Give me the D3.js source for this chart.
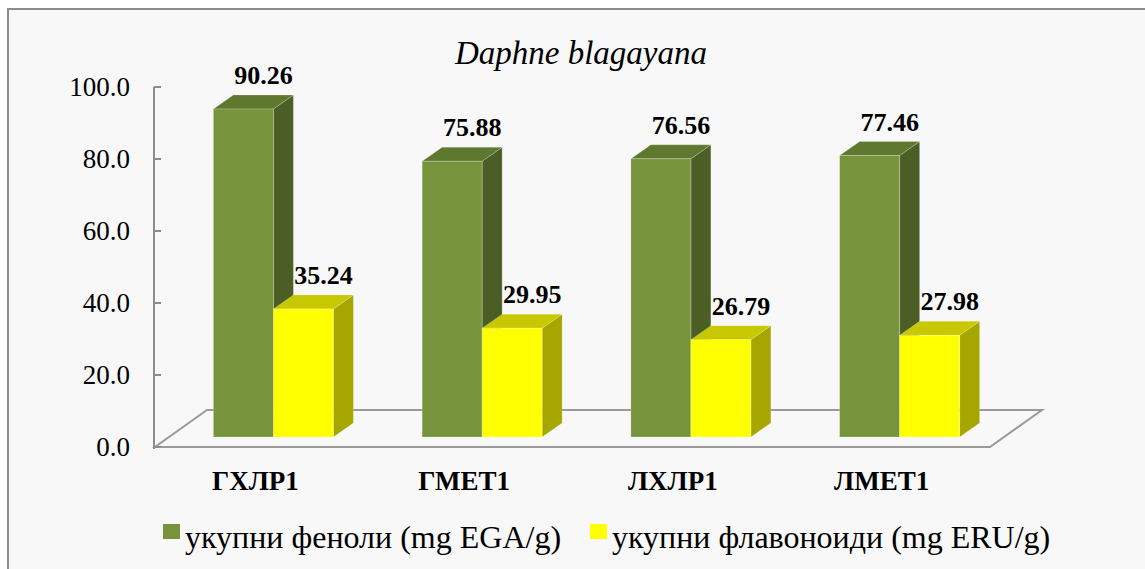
<!DOCTYPE html>
<html>
<head>
<meta charset="utf-8">
<script src="https://cdn.jsdelivr.net/npm/d3@7"></script>
<style>
  html, body { margin: 0; padding: 0; background: #ffffff; }
  svg { display: block; }
</style>
</head>
<body>
<svg id="chart" width="1145" height="569"></svg>
<script>
// Total phenols and flavonoids in Daphne blagayana extracts
const title = "Daphne blagayana";
const categories = ["ГХЛР1", "ГМЕТ1", "ЛХЛР1", "ЛМЕТ1"];
const seriesNames = ["укупни феноли (mg EGA/g)", "укупни флавоноиди (mg ERU/g)"];
const phenols = [90.26, 75.88, 76.56, 77.46];
const flavonoids = [35.24, 29.95, 26.79, 27.98];
const yTicks = [0, 20, 40, 60, 80, 100];

const FONT = "\"Liberation Serif\"";
const svg = d3.select("#chart");
const W = 1145, H = 569;

// chart area frame
svg.append("rect").attr("x", 8).attr("y", 9).attr("width", W).attr("height", H)
  .attr("fill", "#f8f8f8").attr("stroke", "#8c8c8c").attr("stroke-width", 2);

// plot geometry
const floorLeft = 155, floorRight = 990, floorFront = 447;
const depth = [52, -37];            // floor depth vector
const barOffset = [14, -10];        // bar front face offset into the floor
const barDepth = [20, -14];         // bar depth vector
const barW = 60;

const x = d3.scaleBand().domain(categories).range([floorLeft, floorRight]);
const yAxis = d3.scaleLinear().domain([0, 100]).range([floorFront, 87]);
const yBar = d3.scaleLinear().domain([0, 100]).range([floorFront + barOffset[1], floorFront + barOffset[1] - 363.4]);

// floor
const floorPts = [
  [floorLeft, floorFront], [floorRight, floorFront],
  [floorRight + depth[0], floorFront + depth[1]], [floorLeft + depth[0], floorFront + depth[1]]
];
svg.append("polygon").attr("points", floorPts.map(p => p.join(",")).join(" "))
  .attr("fill", "#f8f8f8").attr("stroke", "#9a9a9a").attr("stroke-width", 2);

// value axis
const axisG = svg.append("g");
axisG.append("line").attr("x1", floorLeft - 1).attr("x2", floorLeft - 1)
  .attr("y1", yAxis(100)).attr("y2", floorFront + 2)
  .attr("stroke", "#8c8c8c").attr("stroke-width", 2);
axisG.selectAll("line.tick").data(yTicks).join("line").attr("class", "tick")
  .attr("x1", floorLeft - 1).attr("x2", floorLeft + 6)
  .attr("y1", d => yAxis(d)).attr("y2", d => yAxis(d))
  .attr("stroke", "#8c8c8c").attr("stroke-width", 2);
axisG.selectAll("text").data(yTicks).join("text")
  .attr("x", 130).attr("y", d => yAxis(d)).attr("dy", "0.33em")
  .attr("text-anchor", "end").attr("font-family", FONT).attr("font-size", 27)
  .text(d => d.toFixed(1));

// bars
const series = [
  { name: seriesNames[0], values: phenols, front: "#77933c", top: "#5f782f", side: "#4b5e26", dx: -barW },
  { name: seriesNames[1], values: flavonoids, front: "#ffff00", top: "#c8c800", side: "#a6a600", dx: 0 }
];

const barsG = svg.append("g");
categories.forEach((c, i) => {
  series.forEach(s => {
    const v = s.values[i];
    const x0 = x(c) + x.bandwidth() / 2 + barOffset[0] + s.dx;
    const x1 = x0 + barW;
    const yb = yBar(0), yt = yBar(v);
    const [ddx, ddy] = barDepth;
    const g = barsG.append("g");
    // side face
    g.append("polygon").attr("points", [[x1, yb], [x1 + ddx, yb + ddy], [x1 + ddx, yt + ddy], [x1, yt]].map(p => p.join(",")).join(" "))
      .attr("fill", s.side).attr("stroke", "rgba(255,255,255,0.25)").attr("stroke-width", 0.8);
    // top face
    g.append("polygon").attr("points", [[x0, yt], [x0 + ddx, yt + ddy], [x1 + ddx, yt + ddy], [x1, yt]].map(p => p.join(",")).join(" "))
      .attr("fill", s.top).attr("stroke", "rgba(255,255,255,0.25)").attr("stroke-width", 0.8);
    // front face
    g.append("rect").attr("x", x0).attr("y", yt).attr("width", barW).attr("height", yb - yt)
      .attr("fill", s.front).attr("stroke", "rgba(255,255,255,0.3)").attr("stroke-width", 0.8);
    // value label above the back edge
    g.append("text")
      .attr("x", x0 + ddx + barW / 2).attr("y", yt + ddy - 11)
      .attr("text-anchor", "middle").attr("font-family", FONT)
      .attr("font-size", 26).attr("font-weight", "bold")
      .text(v.toFixed(2));
  });
});

// category labels
svg.append("g").selectAll("text").data(categories).join("text")
  .attr("x", d => x(d) + x.bandwidth() / 2 - 4).attr("y", 490)
  .attr("text-anchor", "middle").attr("font-family", FONT)
  .attr("font-size", 27).attr("font-weight", "bold")
  .text(d => d);

// title
svg.append("text").attr("x", 581).attr("y", 64).attr("text-anchor", "middle")
  .attr("font-family", FONT).attr("font-size", 33).attr("font-style", "italic").text(title);

// legend
const legendItems = [
  { name: seriesNames[0], color: "#77933c", x: 163 },
  { name: seriesNames[1], color: "#ffff00", x: 590 }
];
const lg = svg.append("g").selectAll("g").data(legendItems).join("g")
  .attr("transform", d => `translate(${d.x},0)`);
lg.append("rect").attr("x", 0).attr("y", 524).attr("width", 17).attr("height", 15)
  .attr("fill", d => d.color);
lg.append("text").attr("x", 22).attr("y", 548).attr("font-family", FONT)
  .attr("font-size", 32).text(d => d.name);
</script>
</body>
</html>
